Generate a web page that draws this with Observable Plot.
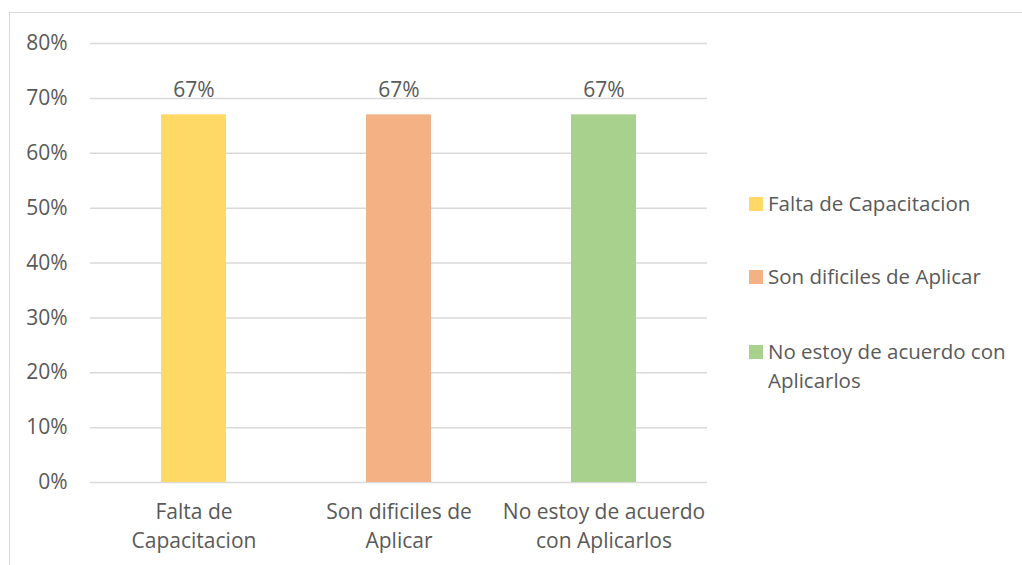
<!DOCTYPE html>
<html>
<head>
<meta charset="utf-8">
<script src="https://cdn.jsdelivr.net/npm/d3@7"></script>
<script src="https://cdn.jsdelivr.net/npm/@observablehq/plot@0.6"></script>
<style>
  html, body { margin: 0; padding: 0; background: #fff; }
  #wrap { position: relative; width: 1022px; height: 565px; overflow: hidden; font-family: "Open Sans", Lato, sans-serif; }
  #frame { position: absolute; left: 9px; top: 12px; width: 1100px; height: 600px; border-left: 1px solid #d9d9d9; border-top: 1px solid #d9d9d9; }
  #chart { position: absolute; left: 0; top: 0; }
  #legend { position: absolute; left: 749px; top: 0; color: #595959; font-size: 20.5px; }
  .item { position: absolute; left: 0; width: 272px; }
  .sw { position: absolute; left: 0; width: 14px; height: 14px; }
  .lab { position: absolute; left: 19px; line-height: 29px; white-space: nowrap; }
</style>
</head>
<body>
<div id="wrap">
  <div id="frame"></div>
  <div id="chart"></div>
  <div id="legend"></div>
</div>
<script>
const categories = ["Falta de Capacitacion", "Son dificiles de Aplicar", "No estoy de acuerdo con Aplicarlos"];
const axisLabels = ["Falta de\nCapacitacion", "Son dificiles de\nAplicar", "No estoy de acuerdo\ncon Aplicarlos"];
const legendLabels = ["Falta de Capacitacion", "Son dificiles de Aplicar", "No estoy de acuerdo con\nAplicarlos"];
const values = [0.67, 0.67, 0.67];
const colors = ["#FFD966", "#F4B183", "#A9D18E"];
const yTicks = [0, 0.1, 0.2, 0.3, 0.4, 0.5, 0.6, 0.7, 0.8];

const data = categories.map((c, i) => ({cat: c, value: values[i], color: colors[i]}));
const fmt = d3.format(".0%");
const labelOf = new Map(categories.map((c, i) => [c, axisLabels[i]]));

const chart = Plot.plot({
  width: 1022,
  height: 565,
  marginLeft: 90,
  marginRight: 315,
  marginTop: 43,
  marginBottom: 83,
  style: {fontFamily: "'Open Sans', Lato, sans-serif", fontSize: "21px", color: "#595959", background: "transparent"},
  x: {domain: categories, paddingInner: 0.684, paddingOuter: 0.342, axis: null, label: null},
  y: {domain: [0, 0.8], axis: null, label: null},
  marks: [
    Plot.gridY(yTicks, {stroke: "#d9d9d9", strokeOpacity: 1, strokeWidth: 1.5}),
    Plot.axisY(yTicks, {tickSize: 0, tickPadding: 23, tickFormat: fmt, fill: "#595959", fontSize: 21, label: null}),
    Plot.barY(data, {x: "cat", y: "value", fill: "color"}),
    Plot.text(data, {x: "cat", y: "value", text: d => fmt(d.value), dy: -25, fill: "#595959", fontSize: 21}),
    Plot.axisX(categories, {tickSize: 0, tickPadding: 16, tickFormat: d => labelOf.get(d), lineHeight: 1.38, fill: "#595959", fontSize: 21, lineAnchor: "top", label: null})
  ]
});
document.getElementById("chart").appendChild(chart);

const legendTops = [189, 262, 337];
const legend = document.getElementById("legend");
legendLabels.forEach((l, i) => {
  const it = document.createElement("div");
  it.className = "item";
  it.style.top = legendTops[i] + "px";
  const sw = document.createElement("div");
  sw.className = "sw";
  sw.style.background = colors[i];
  sw.style.top = "8px";
  const lab = document.createElement("div");
  lab.className = "lab";
  lab.style.top = "0px";
  lab.innerHTML = l.split("\n").join("<br>");
  it.appendChild(sw);
  it.appendChild(lab);
  legend.appendChild(it);
});
</script>
</body>
</html>
